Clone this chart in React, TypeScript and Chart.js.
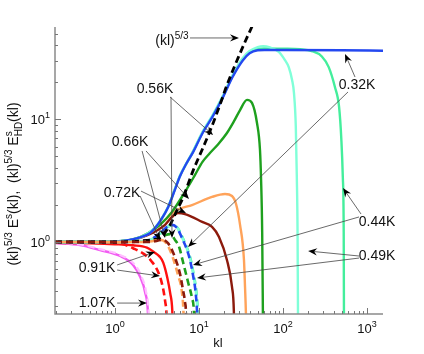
import React, { useEffect, useRef } from 'react';
import { Chart, registerables } from 'chart.js';
Chart.register(...registerables);

type P = [number, number];

// ---- data (kl, compensated spectrum) ----
const refKl53: P[] = [[0.193,1.0],[1,1.0],[2,1.02],[3,1.05],[3.43,1.08],[4.52,1.38],[5.47,1.82],[6.45,2.3],[8.48,3.8],[11.2,5.9],[13.5,8.0],[17.8,13.2],[21.5,19.0],[30.8,34.5],[37.3,46.5],[42.7,57],[45,63]];

const t032Solid: P[] = [[0.193,1.0],[0.5,1.0],[1,1.01],[1.5,1.04],[2,1.09],[2.6,1.18],[3.0,1.3],[3.6,1.55],[4.3,1.93],[5.2,2.7],[5.9,3.4],[7,4.3],[8.5,5.4],[11,7.7],[14.5,10.5],[19,14.8],[25,22],[33,30],[40,34.5],[50,36.5],[60,36.7],[100,36.7],[500,36.5],[1550,36.2]];
const t044Solid: P[] = [[0.193,1.0],[1,1.01],[2,1.09],[3,1.31],[4.3,1.94],[5.2,2.73],[5.9,3.42],[8.5,5.45],[11,7.8],[14.5,10.6],[19,15],[25,22.4],[33,30.8],[40,35.2],[50,37.4],[60,37.8],[100,37.6],[160,37.2],[220,36],[290,32.5],[350,26.6],[415,18.3],[465,12.6],[495,6.8],[515,3.4],[528,1.2],[532,0.2]];
const t049Solid: P[] = [[0.193,1.0],[1,1.01],[2,1.09],[3,1.31],[4.3,1.95],[5.2,2.75],[5.9,3.45],[8.5,5.5],[11,7.9],[14.5,10.8],[19,15.3],[25,22.8],[33,31.5],[40,36],[50,38.8],[58,39.5],[70,38.5],[89,35.4],[105,30.5],[117,26.6],[128,21],[135,16.4],[142,8.7],[146,3.4],[149,1.2],[151,0.2]];
const t056Solid: P[] = [[0.193,1.0],[1,1.01],[1.7,1.06],[2.47,1.18],[3.43,1.38],[4.77,1.76],[6.81,2.56],[8.96,3.52],[11,4.5],[13.5,5.31],[17,6.3],[21.5,7.73],[26,9.6],[30.8,11.9],[37.3,14.4],[42.7,13.6],[49,9.33],[53.2,5.62],[54.7,3.38],[56.5,1.2],[57.8,0.2]];
const t066Solid: P[] = [[0.193,1.0],[1,1.01],[1.7,1.05],[2.47,1.16],[3.73,1.46],[5.47,1.82],[8.25,2.0],[14.3,2.33],[20.4,2.46],[24.7,2.37],[27.6,2.04],[30.8,1.38],[34.3,0.714],[35.3,0.43],[36.2,0.26],[36.5,0.2]];
const t072Solid: P[] = [[0.193,1.0],[1,1.01],[1.7,1.05],[2.47,1.14],[3.94,1.38],[4.77,1.6],[5.62,1.72],[6.81,1.69],[10.9,1.46],[14.3,1.33],[17.3,1.1],[21.5,0.714],[24.7,0.43],[26,0.27],[26.2,0.2]];
const t091Solid: P[] = [[0.193,0.985],[0.5,0.975],[1,0.96],[1.64,0.94],[2.4,0.9],[2.9,0.83],[3.4,0.76],[3.75,0.68],[4.2,0.51],[4.55,0.38],[4.8,0.28],[4.88,0.2]];
const t107Solid: P[] = [[0.193,0.98],[0.383,0.945],[0.663,0.86],[1.15,0.77],[1.64,0.65],[1.99,0.52],[2.28,0.39],[2.47,0.26],[2.5,0.2]];

const t032HD: P[] = [[0.193,1.0],[1,1.0],[2,1.01],[2.61,1.04],[3.43,1.18],[4.16,1.33],[4.77,1.38],[5.47,1.3],[6.26,1.08],[7.2,0.86],[7.81,0.714],[8.48,0.538],[9.1,0.391],[9.5,0.26],[9.6,0.2]];
const t044HD: P[] = [[0.193,1.0],[1,1.0],[2,1.01],[2.65,1.04],[3.5,1.18],[4.25,1.33],[4.87,1.38],[5.58,1.3],[6.4,1.08],[7.35,0.86],[7.98,0.714],[8.66,0.538],[9.3,0.391],[9.7,0.26],[9.8,0.2]];
const t049HD: P[] = [[0.193,1.0],[1,1.0],[2,1.01],[2.63,1.04],[3.47,1.18],[4.2,1.33],[4.82,1.38],[5.52,1.3],[6.33,1.08],[7.28,0.86],[7.9,0.714],[8.57,0.538],[9.2,0.391],[9.6,0.26],[9.7,0.2]];
const t056HD: P[] = [[0.193,1.0],[1,1.0],[2,1.01],[2.61,1.02],[3.73,1.12],[4.52,1.16],[5.18,1.04],[5.8,0.91],[6.45,0.687],[7.4,0.472],[8.25,0.35],[8.72,0.26],[8.8,0.2]];
const t066HD: P[] = [[0.193,1.0],[1,1.0],[2,1.0],[2.61,1.01],[3.43,1.04],[3.83,1.02],[4.27,0.93],[4.9,0.74],[5.62,0.538],[6.26,0.391],[6.54,0.26],[6.6,0.2]];
const t072HD: P[] = [[0.193,1.0],[1,1.0],[2,1.0],[2.61,1.0],[3.73,1.04],[4.27,0.98],[4.77,0.86],[5.3,0.714],[5.94,0.55],[6.45,0.406],[6.81,0.324],[7.0,0.26],[7.05,0.2]];
const t091HD: P[] = [[0.193,1.0],[0.8,0.995],[1.2,0.97],[1.64,0.89],[2.2,0.8],[2.7,0.7],[3.3,0.56],[3.7,0.43],[3.95,0.33],[4.1,0.26],[4.15,0.2]];
const t107HD: P[] = [[0.193,0.99],[0.383,0.955],[0.663,0.875],[1.15,0.785],[1.7,0.66],[2.05,0.53],[2.33,0.4],[2.52,0.26],[2.55,0.2]];

// axis
const xMin = 0.193, xMax = 1550, yMin = 0.259, yMax = 56.5;
const xMajor = [1, 10, 100, 1000];
const xMajorExp = ['0', '1', '2', '3'];
const yMajor = [1, 10];
const yMajorExp = ['0', '1'];
const xMinor = [0.2,0.3,0.4,0.5,0.6,0.7,0.8,0.9,2,3,4,5,6,7,8,9,20,30,40,50,60,70,80,90,200,300,400,500,600,700,800,900];
const yMinor = [0.3,0.4,0.5,0.6,0.7,0.8,0.9,2,3,4,5,6,7,8,9,20,30,40,50];

// annotation labels (data coords of label centre)
const labelText = ['0.56K','0.66K','0.72K','0.91K','1.07K','0.32K','0.44K','0.49K'];
const labelK = [2.99, 1.51, 1.21, 0.61, 0.61, 760, 1315, 1315];
const labelV = [17.7, 6.53, 2.51, 0.614, 0.318, 19.0, 1.456, 0.769];
// arrows: from (k0,v0) to tip (k1,v1)
const arrows: [number, number, number, number][] = [
  [7.81,46.0, 29.9,46.0],
  [4.52,15.2, 14.7,7.45],
  [4.64,15.2, 4.77,1.08],
  [2.34,5.52, 7.6,2.24],
  [2.10,5.52, 3.94,1.08],
  [2.04,2.60, 7.0,1.72],
  [1.99,2.37, 3.43,1.04],
  [1.06,0.65, 2.99,0.829],
  [1.06,0.591, 3.43,0.528],
  [1.06,0.318, 2.40,0.318],
  [720,22.1, 547,34.1],
  [594,16.7, 7.4,0.91],
  [849,1.69, 518,2.75],
  [803,1.6, 8.48,0.65],
  [803,0.769, 199,0.845],
  [803,0.74, 9.47,0.509],
];
const refLabelK = 4.77, refLabelV = 44.3;

const FONT = '"Liberation Sans", Arial, Helvetica, sans-serif';

type Seg = { t: string; k?: 'n' | 'sup' | 'sub' | 'supsub'; sub?: string };

function richWidth(ctx: CanvasRenderingContext2D, segs: Seg[], size: number) {
  let w = 0;
  const small = Math.round(size * 0.7);
  for (const s of segs) {
    const kind = s.k || 'n';
    if (kind === 'n') { ctx.font = `${size}px ${FONT}`; w += ctx.measureText(s.t).width; }
    else if (kind === 'supsub') {
      ctx.font = `${small}px ${FONT}`;
      w += Math.max(ctx.measureText(s.t).width, ctx.measureText(s.sub || '').width);
    } else { ctx.font = `${small}px ${FONT}`; w += ctx.measureText(s.t).width; }
  }
  return w;
}
function drawRich(ctx: CanvasRenderingContext2D, segs: Seg[], x: number, y: number, size: number) {
  const small = Math.round(size * 0.7);
  ctx.textAlign = 'left';
  ctx.textBaseline = 'alphabetic';
  let cx = x;
  for (const s of segs) {
    const kind = s.k || 'n';
    if (kind === 'n') {
      ctx.font = `${size}px ${FONT}`; ctx.fillText(s.t, cx, y); cx += ctx.measureText(s.t).width;
    } else if (kind === 'sup') {
      ctx.font = `${small}px ${FONT}`; ctx.fillText(s.t, cx, y - size * 0.45); cx += ctx.measureText(s.t).width;
    } else if (kind === 'sub') {
      ctx.font = `${small}px ${FONT}`; ctx.fillText(s.t, cx, y + size * 0.28); cx += ctx.measureText(s.t).width;
    } else {
      ctx.font = `${small}px ${FONT}`;
      ctx.fillText(s.t, cx, y - size * 0.45);
      ctx.fillText(s.sub || '', cx, y + size * 0.3);
      cx += Math.max(ctx.measureText(s.t).width, ctx.measureText(s.sub || '').width);
    }
  }
  return cx - x;
}

const decorPlugin = {
  id: 'decor',
  afterDatasetsDraw(chart: any) {
    const ctx: CanvasRenderingContext2D = chart.ctx;
    const xs = chart.scales.x, ys = chart.scales.y;
    const ca = chart.chartArea;
    const X = (v: number) => xs.getPixelForValue(v);
    const Y = (v: number) => ys.getPixelForValue(v);
    ctx.save();
    // axes
    ctx.strokeStyle = '#8a8a8a';
    ctx.lineWidth = 1.5;
    ctx.beginPath();
    ctx.moveTo(ca.left, ca.top);
    ctx.lineTo(ca.left, ca.bottom);
    ctx.lineTo(ca.right, ca.bottom);
    ctx.stroke();
    ctx.lineWidth = 1;
    ctx.strokeStyle = '#777';
    ctx.beginPath();
    for (const v of xMajor) { const p = Math.round(X(v)) + 0.5; ctx.moveTo(p, ca.bottom); ctx.lineTo(p, ca.bottom - 6); }
    for (const v of xMinor) { const p = Math.round(X(v)) + 0.5; ctx.moveTo(p, ca.bottom); ctx.lineTo(p, ca.bottom - 3); }
    for (const v of yMajor) { const p = Math.round(Y(v)) + 0.5; ctx.moveTo(ca.left, p); ctx.lineTo(ca.left + 6, p); }
    for (const v of yMinor) { const p = Math.round(Y(v)) + 0.5; ctx.moveTo(ca.left, p); ctx.lineTo(ca.left + 3, p); }
    ctx.stroke();

    ctx.fillStyle = '#111';
    // tick labels
    xMajor.forEach((v, i) => {
      const segs: Seg[] = [{ t: '10' }, { t: xMajorExp[i], k: 'sup' }];
      const w = richWidth(ctx, segs, 13);
      drawRich(ctx, segs, X(v) - w / 2, ca.bottom + 19, 13);
    });
    yMajor.forEach((v, i) => {
      const segs: Seg[] = [{ t: '10' }, { t: yMajorExp[i], k: 'sup' }];
      const w = richWidth(ctx, segs, 13);
      drawRich(ctx, segs, ca.left - 5 - w, Y(v) + 5, 13);
    });
    // x title
    ctx.font = `13px ${FONT}`;
    ctx.textAlign = 'center';
    ctx.textBaseline = 'alphabetic';
    ctx.fillText('kl', (ca.left + ca.right) / 2 - 1, ca.bottom + 33);
    // y title
    const ySegs: Seg[] = [
      { t: '(kl)' }, { t: '5/3', k: 'sup' }, { t: ' E' }, { t: 's', k: 'sup' }, { t: '(kl),  (kl)' },
      { t: '5/3', k: 'sup' }, { t: ' E' }, { t: 's', k: 'supsub', sub: 'HD' }, { t: '(kl)' },
    ];
    ctx.save();
    ctx.translate(18, 184);
    ctx.rotate(-Math.PI / 2);
    const yw = richWidth(ctx, ySegs, 14);
    drawRich(ctx, ySegs, -yw / 2, 0, 14);
    ctx.restore();

    // annotation arrows
    for (const [k0, v0, k1, v1] of arrows) {
      const x0 = X(k0), y0 = Y(v0), x1 = X(k1), y1 = Y(v1);
      const ang = Math.atan2(y1 - y0, x1 - x0);
      ctx.strokeStyle = '#444';
      ctx.lineWidth = 0.8;
      ctx.beginPath();
      ctx.moveTo(x0, y0);
      ctx.lineTo(x1 - Math.cos(ang) * 5, y1 - Math.sin(ang) * 5);
      ctx.stroke();
      const L = 9, H = 3.6, N = 6;
      const c = Math.cos(ang), s = Math.sin(ang);
      ctx.fillStyle = '#000';
      ctx.beginPath();
      ctx.moveTo(x1, y1);
      ctx.lineTo(x1 - c * L - s * H, y1 - s * L + c * H);
      ctx.lineTo(x1 - c * N, y1 - s * N);
      ctx.lineTo(x1 - c * L + s * H, y1 - s * L - c * H);
      ctx.closePath();
      ctx.fill();
    }
    // labels
    ctx.fillStyle = '#111';
    ctx.font = `14px ${FONT}`;
    ctx.textAlign = 'center';
    ctx.textBaseline = 'middle';
    labelText.forEach((t, i) => {
      ctx.fillText(t, X(labelK[i]), Y(labelV[i]));
    });
    const rSegs: Seg[] = [{ t: '(kl)' }, { t: '5/3', k: 'sup' }];
    const rw = richWidth(ctx, rSegs, 14);
    drawRich(ctx, rSegs, X(refLabelK) - rw / 2, Y(refLabelV) + 5, 14);
    ctx.restore();
  },
};

const toXY = (pts: P[]) => pts.map(([x, y]) => ({ x, y }));

export default function App() {
  const ref = useRef<HTMLCanvasElement>(null);
  useEffect(() => {
    if (!ref.current) return;
    const solid = (pts: P[], color: string, w = 2.2) => ({
      data: toXY(pts), borderColor: color, borderWidth: w, pointRadius: 0, fill: false,
      cubicInterpolationMode: 'monotone' as const, borderCapStyle: 'butt' as const,
    });
    const dashed = (pts: P[], color: string, w = 2.6, off = 0, dash = [7, 4]) => ({
      data: toXY(pts), borderColor: color, borderWidth: w, pointRadius: 0, fill: false,
      borderDash: dash, borderDashOffset: off,
      cubicInterpolationMode: 'monotone' as const, borderCapStyle: 'butt' as const,
    });
    // first dataset is drawn on top
    const datasets: any[] = [
      dashed(t072HD, '#8c1a0c', 2.6),
      dashed(t066HD, '#ffa35a', 2.6, 4),
      dashed(refKl53, '#000000', 2.8),
      dashed(t032HD, '#2448f0', 2.6),
      dashed(t056HD, '#1ea01e', 2.6),
      dashed(t091HD, '#ff1010', 2.6),
      dashed(t107HD, '#ffc0ff', 2.2),
      dashed(t049HD, '#80ffd8', 2.6, 5.5),
      dashed(t044HD, '#44ee9c', 2.6, 5.5),
      solid(t032Solid, '#2448f0', 2.4),
      solid(t049Solid, '#80ffd8', 2.4),
      solid(t044Solid, '#44ee9c', 2.4),
      solid(t056Solid, '#1ea01e', 2.4),
      solid(t066Solid, '#ffa35a', 2.4),
      solid(t072Solid, '#8c1a0c', 2.4),
      solid(t091Solid, '#ff1010', 2.4),
      solid(t107Solid, '#f25cf2', 2.4),
    ];
    const chart = new Chart(ref.current, {
      type: 'line',
      data: { datasets },
      options: {
        animation: false,
        responsive: false,
        maintainAspectRatio: false,
        devicePixelRatio: 1,
        layout: { padding: { left: 55, right: 41, top: 27, bottom: 40 } },
        plugins: { legend: { display: false }, tooltip: { enabled: false } },
        events: [],
        scales: {
          x: { type: 'logarithmic', min: xMin, max: xMax, display: false },
          y: { type: 'logarithmic', min: yMin, max: yMax, display: false },
        },
      },
      plugins: [decorPlugin],
    });
    return () => chart.destroy();
  }, []);
  return (
    <div style={{ position: 'absolute', left: 0, top: 0, width: 424, height: 354, background: '#fff' }}>
      <canvas ref={ref} width={424} height={354} style={{ width: 424, height: 354, display: 'block' }} />
    </div>
  );
}
